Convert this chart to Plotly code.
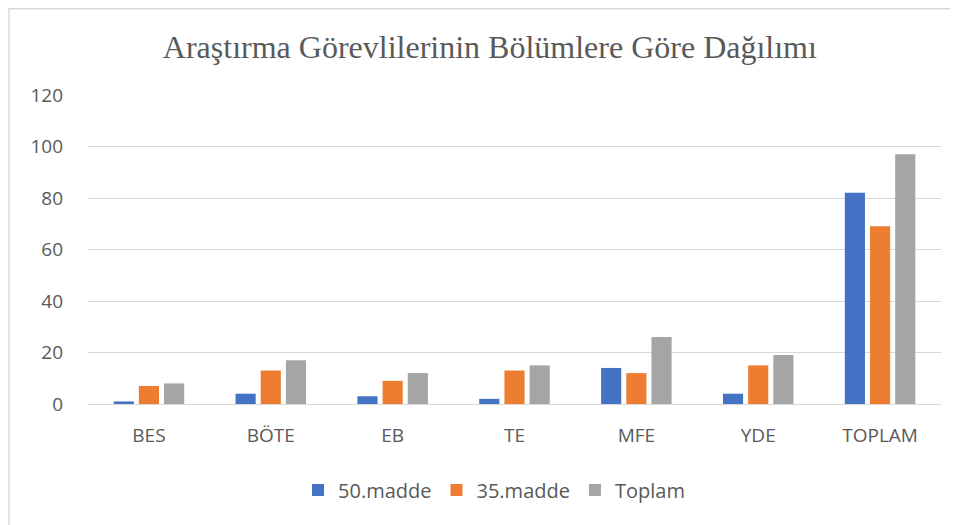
import plotly.graph_objects as go

categories = ["BES", "BÖTE", "EB", "TE", "MFE", "YDE", "TOPLAM"]
madde50 = [1, 4, 3, 2, 14, 4, 82]
madde35 = [7, 13, 9, 13, 12, 15, 69]
toplam = [8, 17, 12, 15, 26, 19, 97]
y_ticks = [0, 20, 40, 60, 80, 100, 120]

fig = go.Figure()
for name, vals, col in [("50.madde", madde50, "#4472C4"),
                        ("35.madde", madde35, "#ED7D31"),
                        ("Toplam", toplam, "#A5A5A5")]:
    fig.add_trace(go.Bar(x=categories, y=vals, name=name, marker_color=col,
                         marker_line_width=0))

fig.update_layout(
    width=958, height=525,
    margin=dict(l=80, r=25, t=87, b=129, autoexpand=False),
    paper_bgcolor="white", plot_bgcolor="white",
    barmode="group", bargap=0.38, bargroupgap=0.2,
    title=dict(text="Araştırma Görevlilerinin Bölümlere Göre Dağılımı",
               font=dict(family="Liberation Serif", size=32, color="#595959"),
               x=0.503, xanchor="center", xref="container", y=0.926, yanchor="middle"),
    font=dict(family="Open Sans", size=19, color="#595959"),
    legend=dict(orientation="h", x=0.476, xanchor="center",
                y=-0.278, yanchor="middle", font=dict(size=20, color="#595959")),
    showlegend=True,
)
fig.update_yaxes(range=[0, 120], tickvals=y_ticks, showgrid=True,
                 gridcolor="#D9D9D9", gridwidth=1, zeroline=True,
                 zerolinecolor="#D9D9D9", zerolinewidth=1,
                 ticks="", ticklabelstandoff=24, showline=False, automargin=False)
fig.update_xaxes(showgrid=False, ticks="", showline=False, tickangle=0,
                 ticklabelstandoff=18, automargin=False)

fig.add_shape(type="rect", xref="paper", yref="paper",
              x0=-0.0926, x1=1.05, y0=-0.6, y1=1.279,
              line=dict(color="#D9D9D9", width=1.5), fillcolor="rgba(0,0,0,0)",
              layer="below")

fig.write_html("out.html")
